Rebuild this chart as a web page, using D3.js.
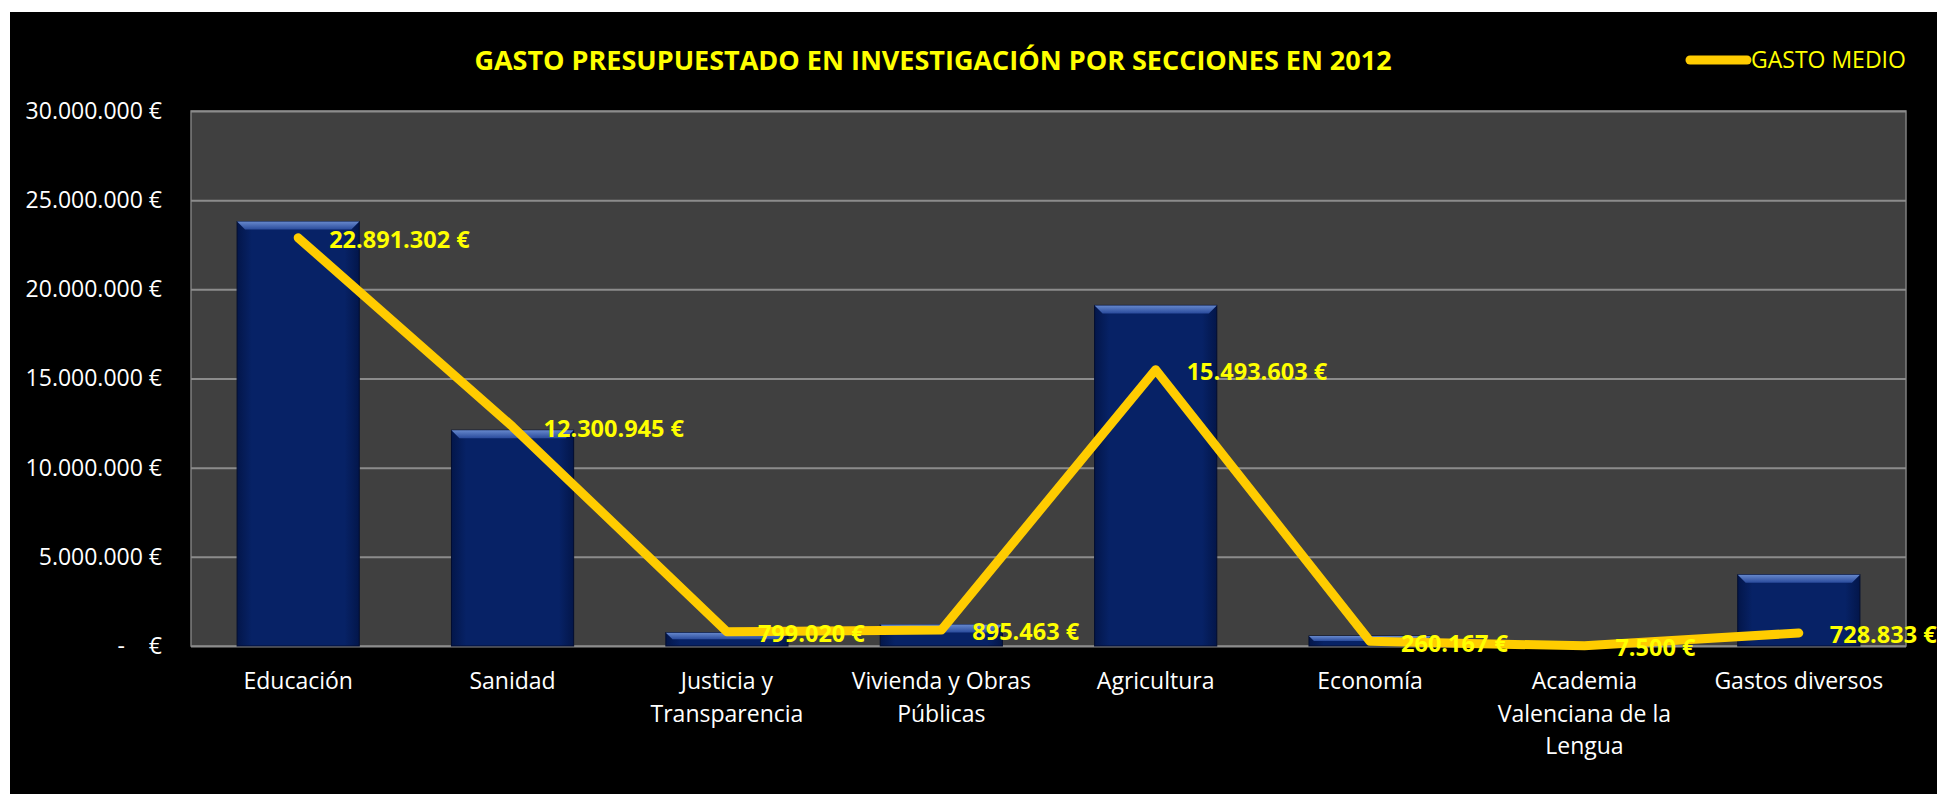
<!DOCTYPE html>
<html>
<head>
<meta charset="utf-8">
<script src="https://cdn.jsdelivr.net/npm/d3@7"></script>
<style>
  html, body { margin: 0; padding: 0; background: #ffffff; }
  svg { display: block; }
  text { font-family: "Open Sans", "DejaVu Sans", sans-serif; }
</style>
</head>
<body>
<div id="chart"></div>
<script>
// categories and values
var categories = ['Educación', 'Sanidad', 'Justicia y Transparencia', 'Vivienda y Obras Públicas',
  'Agricultura', 'Economía', 'Academia Valenciana de la Lengua', 'Gastos diversos'];
var categoryLines = [['Educación'], ['Sanidad'], ['Justicia y', 'Transparencia'], ['Vivienda y Obras', 'Públicas'],
  ['Agricultura'], ['Economía'], ['Academia', 'Valenciana de la', 'Lengua'], ['Gastos diversos']];
var barValues = [23800000, 12100000, 750000, 1200000, 19100000, 560000, 10000, 4000000];
var gastoMedio = [22891302, 12300945, 799020, 895463, 15493603, 260167, 7500, 728833];
var yTicks = [0, 5000000, 10000000, 15000000, 20000000, 25000000, 30000000];

(function(d3) {
  'use strict';

  var width = 1937;
  var height = 794;
  var plot = { left: 191, top: 111, right: 1906, bottom: 646 };

  var fmt = d3.formatLocale({ decimal: ',', thousands: '.', grouping: [3], currency: ['', ' €'] });
  var euro = function(v) { return fmt.format(',.0f')(v) + ' €'; };

  var svg = d3.select('#chart')
    .append('svg')
    .attr('width', width)
    .attr('height', height);

  // black chart background
  svg.append('rect')
    .attr('x', 10).attr('y', 12)
    .attr('width', width - 10).attr('height', height - 12)
    .attr('fill', '#000000');

  var defs = svg.append('defs');
  var gBody = defs.append('linearGradient').attr('id', 'barBody').attr('x1', 0).attr('x2', 1).attr('y1', 0).attr('y2', 0);
  gBody.append('stop').attr('offset', '0%').attr('stop-color', '#03164a');
  gBody.append('stop').attr('offset', '12%').attr('stop-color', '#072266');
  gBody.append('stop').attr('offset', '88%').attr('stop-color', '#072266');
  gBody.append('stop').attr('offset', '100%').attr('stop-color', '#03164a');
  var gTop = defs.append('linearGradient').attr('id', 'barTop').attr('x1', 0).attr('x2', 0).attr('y1', 0).attr('y2', 1);
  gTop.append('stop').attr('offset', '0%').attr('stop-color', '#6688cc');
  gTop.append('stop').attr('offset', '100%').attr('stop-color', '#2a4b9c');

  var x = d3.scaleBand()
    .domain(categories)
    .range([plot.left, plot.right])
    .paddingInner(0.43)
    .paddingOuter(0.215);

  var xc = function(d) { return x(d) + x.bandwidth() / 2; };

  var y = d3.scaleLinear()
    .domain([0, 30000000])
    .range([plot.bottom, plot.top]);

  // plot area
  svg.append('rect')
    .attr('x', plot.left).attr('y', plot.top)
    .attr('width', plot.right - plot.left).attr('height', plot.bottom - plot.top)
    .attr('fill', '#404040')
    .attr('stroke', '#7f7f7f')
    .attr('stroke-width', 1.5);

  // gridlines
  svg.append('g')
    .attr('transform', 'translate(' + plot.left + ',0)')
    .call(d3.axisLeft(y).tickValues(yTicks).tickSize(-(plot.right - plot.left)).tickFormat(''))
    .call(function(g) {
      g.select('.domain').remove();
      g.selectAll('line').attr('stroke', '#8c8c8c').attr('stroke-width', 2);
    });

  // y axis labels
  svg.append('g')
    .attr('transform', 'translate(' + (plot.left - 29) + ',0)')
    .call(d3.axisLeft(y).tickValues(yTicks).tickSize(0).tickPadding(0)
      .tickFormat(function(d) { return d === 0 ? '-\u00A0\u00A0\u00A0\u00A0€' : euro(d); }))
    .call(function(g) {
      g.select('.domain').remove();
      g.selectAll('text')
        .attr('fill', '#ffffff')
        .style('font-size', '23px')
        .style('font-family', '"Open Sans", sans-serif');
    });

  // bars
  var bars = svg.append('g').selectAll('g.bar')
    .data(barValues)
    .enter()
    .append('g')
    .attr('class', 'bar');

  bars.append('rect')
    .attr('x', function(d, i) { return x(categories[i]); })
    .attr('y', function(d) { return y(d); })
    .attr('width', x.bandwidth())
    .attr('height', function(d) { return y(0) - y(d); })
    .attr('fill', 'url(#barBody)')
    .attr('stroke', '#020d30')
    .attr('stroke-width', 1);

  // bevel on bar top
  bars.append('path')
    .attr('d', function(d, i) {
      var x0 = x(categories[i]), x1 = x0 + x.bandwidth(), t = y(d);
      var b = Math.min(8, (y(0) - t) / 2);
      return 'M' + x0 + ',' + t + 'L' + x1 + ',' + t + 'L' + (x1 - b) + ',' + (t + b) +
        'L' + (x0 + b) + ',' + (t + b) + 'Z';
    })
    .attr('fill', 'url(#barTop)');

  // line
  var line = d3.line()
    .x(function(d, i) { return xc(categories[i]); })
    .y(function(d) { return y(d); });

  svg.append('path')
    .datum(gastoMedio)
    .attr('d', line)
    .attr('fill', 'none')
    .attr('stroke', '#ffcc00')
    .attr('stroke-width', 9)
    .attr('stroke-linejoin', 'round')
    .attr('stroke-linecap', 'round');

  // data labels
  svg.append('g').selectAll('text')
    .data(gastoMedio)
    .enter()
    .append('text')
    .attr('x', function(d, i) { return xc(categories[i]) + 31; })
    .attr('y', function(d) { return y(d) + 2; })
    .attr('dy', '0.35em')
    .attr('fill', '#ffff00')
    .style('font-size', '23.5px')
    .style('font-weight', 'bold')
    .text(euro);

  // x labels
  var xl = svg.append('g').selectAll('text')
    .data(categories)
    .enter()
    .append('text')
    .attr('text-anchor', 'middle')
    .attr('fill', '#ffffff')
    .style('font-size', '23px')
    .attr('transform', function(d) { return 'translate(' + xc(d) + ',' + (plot.bottom + 35) + ')'; });

  xl.selectAll('tspan')
    .data(function(d, i) { return categoryLines[i]; })
    .enter()
    .append('tspan')
    .attr('x', 0)
    .attr('y', function(d, i) { return i * 32.5; })
    .attr('dy', '0.35em')
    .text(function(d) { return d; });

  // title
  svg.append('text')
    .attr('x', 933)
    .attr('y', 61)
    .attr('dy', '0.35em')
    .attr('text-anchor', 'middle')
    .attr('fill', '#ffff00')
    .style('font-size', '27px')
    .style('font-weight', 'bold')
    .text('GASTO PRESUPUESTADO EN INVESTIGACIÓN POR SECCIONES EN 2012');

  // legend
  var legend = svg.append('g').attr('class', 'legend');
  legend.append('line')
    .attr('x1', 1690).attr('x2', 1747)
    .attr('y1', 60).attr('y2', 60)
    .attr('stroke', '#ffcc00')
    .attr('stroke-width', 9)
    .attr('stroke-linecap', 'round');
  legend.append('text')
    .attr('x', 1751)
    .attr('y', 60)
    .attr('dy', '0.35em')
    .attr('fill', '#ffff00')
    .style('font-size', '23px')
    .text('GASTO MEDIO');

})(window.d3);
</script>
</body>
</html>
